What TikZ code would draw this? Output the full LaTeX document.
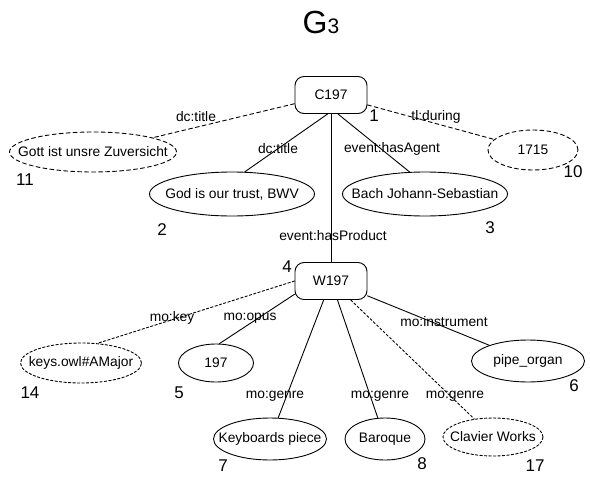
\documentclass[tikz,border=0pt]{standalone}
\usepackage{fontspec}
\setmainfont{Liberation Sans}
\usetikzlibrary{shapes.geometric}
\newcommand{\nt}[1]{\makebox[0pt]{#1}}
\begin{document}
\begin{tikzpicture}[x=1pt, y=-1pt, line width=0.9pt, line join=round, line cap=round]
	\tikzset{every node/.style={font=\fontsize{13.8}{16}\selectfont},
		res/.style={draw, rounded corners=9pt, minimum width=72pt, minimum height=37pt, inner sep=0pt},
		lit/.style={draw, ellipse, inner sep=0pt},
		opt/.style={dash pattern=on 4pt off 3pt},
		optfine/.style={dash pattern=on 2.5pt off 2pt},
		num/.style={font=\fontsize{17}{20}\selectfont}}
	\useasboundingbox (0,0) rectangle (590,477);
	\node[anchor=base] (title) at (321,33) {\fontsize{32}{32}\selectfont G\fontsize{21}{21}\selectfont 3};
	% resources
	\node[res] (c197) at (331,95) {C197};
	\node[res] (w197) at (331,281) {W197};
	% literals
	\node[lit, opt, minimum width=167pt, minimum height=40pt] (gott) at (93,152) {\nt{Gott ist unsre Zuversicht}};
	\node[lit, opt, minimum width=90pt, minimum height=40pt] (year) at (533,150) {\nt{1715}};
	\node[lit, minimum width=165pt, minimum height=44pt] (god) at (232,194) {\nt{God is our trust, BWV}};
	\node[lit, minimum width=165pt, minimum height=44pt] (bach) at (425,194) {\nt{Bach Johann-Sebastian}};
	\node[lit, optfine, minimum width=121pt, minimum height=40pt] (key) at (81,363) {\nt{keys.owl\#AMajor}};
	\node[lit, minimum width=75pt, minimum height=38pt] (opus) at (216,363) {\nt{197}};
	\node[lit, minimum width=113pt, minimum height=42pt] (organ) at (528,361) {\nt{pipe\_organ}};
	\node[lit, minimum width=113pt, minimum height=42pt] (kbd) at (270,439) {\nt{Keyboards piece}};
	\node[lit, minimum width=80pt, minimum height=42pt] (baroque) at (385,439) {\nt{Baroque}};
	\node[lit, optfine, minimum width=100pt, minimum height=38pt] (clav) at (493,437) {\nt{Clavier Works}};
	% numbers
	\node[num] (n1) at (374,116) {1};
	\node[num] (n2) at (162,230) {2};
	\node[num] (n3) at (490,228) {3};
	\node[num] (n4) at (287,267) {4};
	\node[num] (n5) at (179,393) {5};
	\node[num] (n6) at (574,386) {6};
	\node[num] (n7) at (223,466) {7};
	\node[num] (n8) at (422,464) {8};
	\node[num] (n10) at (573,172) {10};
	\node[num] (n11) at (25,180) {11};
	\node[num] (n14) at (30,393) {14};
	\node[num] (n17) at (535,466) {17};
	% edges
	\draw[opt] (c197) -- (gott);
	\draw[opt] (c197) -- (year);
	\draw (c197.260) -- (god.60);
	\draw (c197.290) -- (bach.125);
	\draw (c197) -- (w197);
	\draw[optfine] (w197.west) -- (key.50);
	\draw (w197.200) -- (opus.80);
	\draw (w197) -- (organ);
	\draw (w197) -- (kbd);
	\draw (w197) -- (baroque);
	\draw[optfine] (w197) -- (clav);
	% edge labels
	\node (l-title1) at (196,117) {dc:title};
	\node (l-during) at (436,117) {tl:during};
	\node (l-title2) at (278,149) {dc:title};
	\node (l-agent) at (392,149) {event:hasAgent};
	\node (l-product) at (333,236) {event:hasProduct};
	\node (l-key) at (172,318) {mo:key};
	\node (l-opus) at (250,318) {mo:opus};
	\node (l-instr) at (444,322) {mo:instrument};
	\node (l-genre1) at (275,396) {mo:genre};
	\node (l-genre2) at (380,396) {mo:genre};
	\node (l-genre3) at (455,396) {mo:genre};
\end{tikzpicture}
\end{document}
